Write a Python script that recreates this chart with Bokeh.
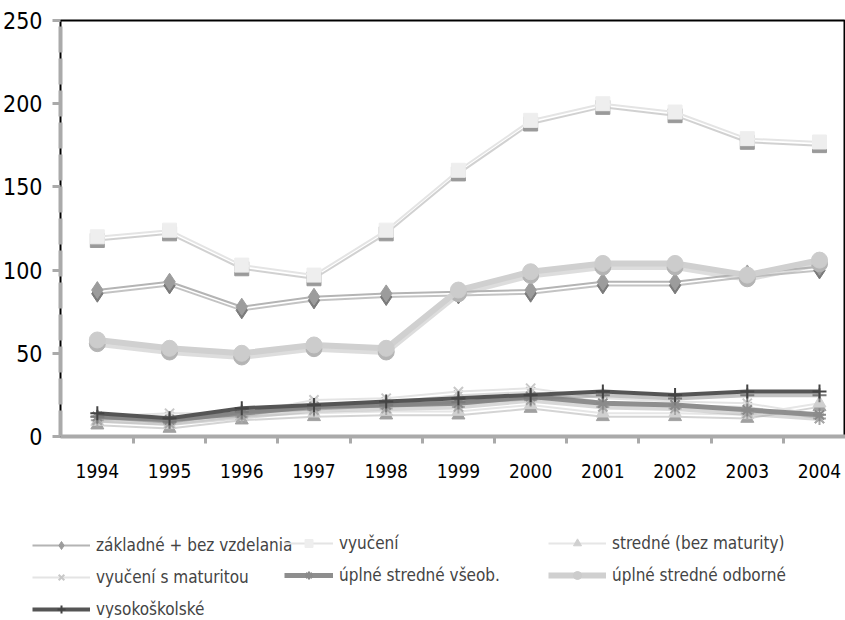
from bokeh.plotting import figure
from bokeh.models import Range1d, FixedTicker, Legend, LegendItem
from bokeh.embed import file_html
from bokeh.resources import INLINE

years = [1994, 1995, 1996, 1997, 1998, 1999, 2000, 2001, 2002, 2003, 2004]
year_labels = [str(y) for y in years]
zakladne = [88, 93, 78, 84, 86, 87, 88, 93, 93, 98, 102]
vyuceni = [120, 124, 103, 97, 124, 160, 190, 200, 195, 179, 177]
stredne_bez = [9, 7, 12, 14, 15, 15, 19, 14, 14, 13, 20]
vyuceni_mat = [12, 14, 14, 22, 23, 27, 29, 23, 21, 20, 13]
uplne_vseob = [12, 10, 14, 18, 19, 20, 24, 20, 19, 16, 13]
uplne_odborne = [58, 53, 50, 55, 53, 88, 99, 104, 104, 97, 106]
vysokoskolske = [14, 11, 17, 19, 21, 23, 25, 27, 25, 27, 27]
y_ticks = [0, 50, 100, 150, 200, 250]

FONT = "'DejaVu Sans Condensed', 'Roboto', sans-serif"
SHADOW_DY = 2.2  # vertical offset of the drop shadow, in data units

p = figure(width=845, height=488, output_backend="svg", toolbar_location=None,
           x_range=Range1d(1993.49, 2004.36), y_range=Range1d(0, 250),
           min_border_left=55, min_border_right=0, min_border_top=20, min_border_bottom=52)
p.grid.visible = False
p.outline_line_color = "black"
p.outline_line_width = 2
p.background_fill_color = "white"
p.border_fill_color = "white"

xa = p.xaxis[0]
xa.ticker = FixedTicker(ticks=years, minor_ticks=[y + 0.5 for y in years[:-1]])
xa.major_label_overrides = {y: s for y, s in zip(years, year_labels)}
xa.axis_line_color = "#aaaaaa"
xa.axis_line_width = 4
xa.major_tick_out = 0
xa.major_tick_in = 0
xa.minor_tick_out = 7
xa.minor_tick_in = 0
xa.minor_tick_line_color = "#aaaaaa"
xa.minor_tick_line_width = 3
xa.major_label_standoff = 20
xa.major_label_text_font = FONT
xa.major_label_text_font_size = "19px"
xa.major_label_text_color = "black"

ya = p.yaxis[0]
ya.ticker = FixedTicker(ticks=y_ticks, minor_ticks=[])
ya.axis_line_color = "#aaaaaa"
ya.axis_line_width = 4
ya.axis_line_dash = "26 6"
ya.major_tick_out = 8
ya.major_tick_in = 0
ya.major_tick_line_color = "#aaaaaa"
ya.major_tick_line_width = 3
ya.minor_tick_out = 0
ya.minor_tick_in = 0
ya.major_label_standoff = 10
ya.major_label_text_font = FONT
ya.major_label_text_font_size = "23px"
ya.major_label_text_color = "black"

# name, values, line colour, line width, marker, marker colour, marker size, shadow colour
series = [
    ("základné + bez vzdelania", zakladne, "#b4b4b4", 2, "diamond", "#9c9c9c", 17, "#7a7a7a"),
    ("vyučení", vyuceni, "#e4e4e4", 2, "square", "#eeeeee", 14, "#9a9a9a"),
    ("stredné (bez maturity)", stredne_bez, "#e6e6e6", 2, "triangle", "#d0d0d0", 13, "#a0a0a0"),
    ("vyučení s maturitou", vyuceni_mat, "#e4e4e4", 2, "x", "#c8c8c8", 13, "#b0b0b0"),
    ("úplné stredné všeob.", uplne_vseob, "#8e8e8e", 5, "asterisk", "#8a8a8a", 13, "#a8a8a8"),
    ("úplné stredné odborné", uplne_odborne, "#d0d0d0", 6, "circle", "#cccccc", 16, "#b4b4b4"),
    ("vysokoškolské", vysokoskolske, "#555555", 4, "cross", "#444444", 14, "#7a7a7a"),
]

def marker_kw(marker, mc):
    if marker in ("x", "asterisk", "cross"):
        return dict(line_color=mc, line_width=2)
    return dict(fill_color=mc, line_color=mc)

for name, ys, lc, lw, marker, mc, ms, sc in series:
    shadow = [v - SHADOW_DY for v in ys]
    p.line(years, shadow, line_color=sc, line_width=lw, line_alpha=0.45)
    p.scatter(years, shadow, marker=marker, size=ms, **marker_kw(marker, sc))
    p.line(years, ys, line_color=lc, line_width=lw)
    p.scatter(years, ys, marker=marker, size=ms, **marker_kw(marker, mc))

# legend panel (its renderers use the same data, outside the visible range)
lp = figure(width=845, height=130, output_backend="svg", toolbar_location=None,
            x_axis_type=None, y_axis_type=None,
            x_range=Range1d(0, 1), y_range=Range1d(0, 1),
            min_border_left=0, min_border_right=0, min_border_top=0, min_border_bottom=0)
lp.grid.visible = False
lp.outline_line_color = None
lp.background_fill_color = "white"
lp.border_fill_color = "white"

items = {}
for name, ys, lc, lw, marker, mc, ms, sc in series:
    r1 = lp.line(years, ys, line_color=lc, line_width=lw)
    r2 = lp.scatter(years, ys, marker=marker, size=ms, **marker_kw(marker, mc))
    items[name] = LegendItem(label=name, renderers=[r1, r2])

cols = [
    (["základné + bez vzdelania", "vyučení s maturitou", "vysokoškolské"], 32, -1, 58),
    (["vyučení", "úplné stredné všeob."], 284, 33, 49),
    (["stredné (bez maturity)", "úplné stredné odborné"], 548, 33, 58),
]
for names, lx, ly, gw in cols:
    lg = Legend(items=[items[n] for n in names], location=(lx, ly),
                glyph_width=gw, glyph_height=20, label_height=20, label_standoff=6,
                spacing=12, padding=0, margin=0,
                label_text_font=FONT, label_text_font_size="17px",
                border_line_color=None, background_fill_alpha=0)
    lp.add_layout(lg, "center")

open("out.html", "w").write(file_html([p, lp], INLINE))
